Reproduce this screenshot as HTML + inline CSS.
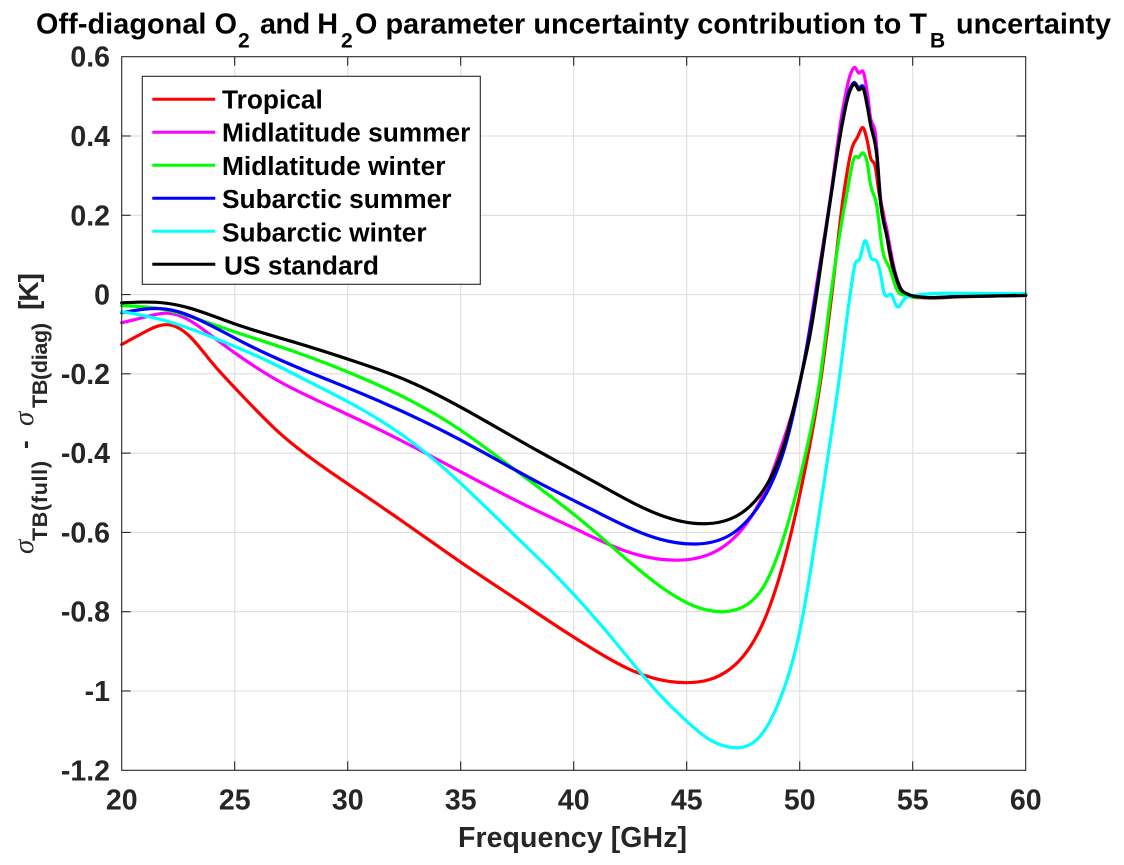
<!DOCTYPE html>
<html lang="en">
<head>
<meta charset="utf-8">
<title>Off-diagonal parameter uncertainty chart</title>
<style>
html,body{margin:0;padding:0;background:#fff;}
svg{display:block;}
text{font-family:"Liberation Sans",Arial,sans-serif;font-weight:bold;}
.serif{font-family:"Liberation Serif",serif;font-style:italic;font-weight:normal;}
</style>
</head>
<body>
<svg id="chart" xmlns="http://www.w3.org/2000/svg" width="1124" height="865" viewBox="0 0 1124 865">
  <rect x="0" y="0" width="1124" height="865" fill="#ffffff"/>
  <g id="grid"></g>
  <g id="series"></g>
  <rect x="121.7" y="56.7" width="904" height="713.6" fill="none" stroke="#262626" stroke-width="1.1"/>
  <g id="ticks"></g>
  <g id="tick-labels"></g>

  <g fill="#000">
    <text x="36" y="33.5" font-size="28.8" textLength="201" lengthAdjust="spacing">Off-diagonal O</text>
    <text x="238" y="47.5" font-size="21">2</text>
    <text x="260" y="33.5" font-size="28.8" textLength="78" lengthAdjust="spacing">and H</text>
    <text x="341" y="47.5" font-size="21">2</text>
    <text x="355" y="33.5" font-size="28.8" textLength="572" lengthAdjust="spacing">O parameter uncertainty contribution to T</text>
    <text x="930" y="47.5" font-size="21">B</text>
    <text x="956" y="33.5" font-size="28.8" textLength="155" lengthAdjust="spacing">uncertainty</text>
  </g>

  <text x="458" y="847" font-size="28.5" fill="#262626" textLength="229" lengthAdjust="spacing">Frequency [GHz]</text>

  <g fill="#262626" transform="rotate(-90)">
    <text class="serif" x="-554" y="33" font-size="29">σ</text>
    <text x="-541" y="47" font-size="21.5" textLength="80" lengthAdjust="spacing">TB(full)</text>
    <text x="-449" y="33" font-size="26">-</text>
    <text class="serif" x="-426" y="33" font-size="29">σ</text>
    <text x="-408" y="47" font-size="21.5" textLength="85" lengthAdjust="spacing">TB(diag)</text>
    <text x="-310" y="38" font-size="28" textLength="37" lengthAdjust="spacing">[K]</text>
  </g>

  <g>
    <rect x="142.3" y="76.3" width="338" height="208" fill="#ffffff" stroke="#262626" stroke-width="1.1"/>
    <g id="legend-entries"></g>
  </g>
</svg>

<script>
var xTicks = [20, 25, 30, 35, 40, 45, 50, 55, 60];
var yTicks = [0.6, 0.4, 0.2, 0, -0.2, -0.4, -0.6, -0.8, -1, -1.2];
var yTickLabels = ['0.6', '0.4', '0.2', '0', '-0.2', '-0.4', '-0.6', '-0.8', '-1', '-1.2'];
var seriesNames = ['Tropical', 'Midlatitude summer', 'Midlatitude winter', 'Subarctic summer', 'Subarctic winter', 'US standard'];

var freqTropical = [20, 21, 22, 23, 24, 25, 27, 29.2, 32.5, 35, 37.5, 39.4, 40.87, 42.35, 43.5, 45, 46.93, 48.41, 49.44, 50.32, 50.97, 51.42, 51.95, 52.32, 52.54, 52.83, 53, 53.13, 53.35, 53.5, 53.72, 54, 54.3, 54.82, 55.5, 57, 60];
var valsTropical = [-0.126, -0.095, -0.076, -0.105, -0.172, -0.235, -0.35, -0.446, -0.575, -0.675, -0.77, -0.842, -0.895, -0.942, -0.967, -0.979, -0.944, -0.824, -0.643, -0.417, -0.2, 0, 0.255, 0.371, 0.395, 0.419, 0.385, 0.346, 0.321, 0.26, 0.2, 0.096, 0.03, -0.002, -0.008, -0.006, -0.002];

var freqMidSummer = [20, 21, 22, 23, 24, 25, 27, 29.68, 32.63, 35, 38, 40.3, 42.35, 44.56, 46.2, 47.67, 48.55, 49.29, 50.18, 50.68, 51.36, 51.87, 52.24, 52.42, 52.61, 52.83, 53, 53.13, 53.35, 53.57, 53.86, 54.16, 54.45, 54.82, 55.34, 57, 60];
var valsMidSummer = [-0.071, -0.057, -0.047, -0.065, -0.105, -0.147, -0.22, -0.294, -0.376, -0.447, -0.535, -0.597, -0.648, -0.67, -0.65, -0.576, -0.484, -0.366, -0.174, 0, 0.246, 0.455, 0.555, 0.573, 0.559, 0.559, 0.505, 0.447, 0.405, 0.246, 0.163, 0.071, 0.017, 0, -0.006, -0.005, -0.002];

var freqMidWinter = [20, 22, 23, 25, 27.75, 30.54, 32.63, 35, 37.35, 40.3, 43.08, 45.3, 46.62, 47.67, 48.41, 49.44, 50.4, 50.93, 51.38, 51.8, 52.09, 52.42, 52.6, 52.83, 53, 53.1, 53.42, 53.64, 54, 54.3, 54.75, 55.5, 57, 60];
var valsMidWinter = [-0.028, -0.039, -0.055, -0.094, -0.146, -0.208, -0.263, -0.342, -0.44, -0.568, -0.703, -0.785, -0.8, -0.782, -0.736, -0.585, -0.366, -0.2, 0, 0.163, 0.255, 0.346, 0.346, 0.356, 0.33, 0.288, 0.221, 0.121, 0.063, 0.0125, -0.003, -0.007, -0.005, -0.002];

var freqSubSummer = [20, 22, 23, 25.25, 27.75, 30.54, 35, 38.5, 40.87, 43.82, 45.5, 46.93, 48.41, 49.44, 50.09, 50.7, 51.36, 51.87, 52.17, 52.42, 52.6, 52.83, 53, 53.13, 53.42, 53.57, 53.86, 54.16, 54.45, 54.82, 55.34, 57, 60];
var valsSubSummer = [-0.046, -0.037, -0.053, -0.117, -0.183, -0.248, -0.367, -0.476, -0.544, -0.617, -0.629, -0.606, -0.513, -0.366, -0.2, -0.005, 0.24, 0.43, 0.51, 0.535, 0.522, 0.522, 0.476, 0.432, 0.348, 0.24, 0.148, 0.064, 0.017, 0, -0.006, -0.005, -0.002];

var freqSubWinter = [20, 22, 24.2, 26.4, 28.5, 30, 32.63, 35, 37.35, 39.4, 41.76, 43.82, 45, 46.03, 47.2, 48.1, 48.83, 49.42, 50, 50.47, 51.14, 51.78, 52.23, 52.46, 52.64, 52.9, 53.16, 53.42, 53.54, 53.72, 54.09, 54.28, 54.68, 55.04, 56.08, 57.1, 60];
var valsSubWinter = [-0.043, -0.067, -0.112, -0.166, -0.226, -0.27, -0.363, -0.476, -0.605, -0.72, -0.871, -1.01, -1.076, -1.123, -1.143, -1.123, -1.06, -0.975, -0.85, -0.7, -0.45, -0.2, 0, 0.079, 0.088, 0.136, 0.092, 0.083, 0.063, 0.007, -0.002, -0.029, -0.008, -0.003, 0.003, 0.003, 0.002];

var freqUSStandard = [20, 22, 23, 25, 27.45, 30.54, 32.63, 35, 38.5, 41, 43.82, 45.88, 46.93, 48.41, 49.37, 50.09, 50.47, 50.84, 51.36, 51.87, 52.17, 52.46, 52.6, 52.83, 53, 53.13, 53.42, 53.57, 53.86, 54.16, 54.45, 54.82, 55.34, 57, 60];
var valsUSStandard = [-0.021, -0.022, -0.034, -0.074, -0.117, -0.173, -0.217, -0.284, -0.397, -0.475, -0.556, -0.578, -0.566, -0.492, -0.366, -0.2, -0.098, 0.036, 0.24, 0.426, 0.505, 0.53, 0.517, 0.517, 0.472, 0.43, 0.346, 0.238, 0.146, 0.063, 0.017, 0, -0.006, -0.005, -0.002];

var SVG_NS = 'http://www.w3.org/2000/svg';
var PLOT_LEFT = 121.7, PLOT_RIGHT = 1025.7, PLOT_TOP = 56.7, PLOT_BOTTOM = 770.3;
var X_MIN = 20, X_MAX = 60, Y_MIN = -1.2, Y_MAX = 0.6;
var SPLINE_END_FREQ = 51.5;

function xScale(f) {
  return PLOT_LEFT + (f - X_MIN) / (X_MAX - X_MIN) * (PLOT_RIGHT - PLOT_LEFT);
}
function yScale(v) {
  return PLOT_BOTTOM - (v - Y_MIN) / (Y_MAX - Y_MIN) * (PLOT_BOTTOM - PLOT_TOP);
}
function lineEl(parent, x1, y1, x2, y2, stroke, width) {
  var l = document.createElementNS(SVG_NS, 'line');
  l.setAttribute('x1', x1);
  l.setAttribute('y1', y1);
  l.setAttribute('x2', x2);
  l.setAttribute('y2', y2);
  l.setAttribute('stroke', stroke);
  l.setAttribute('stroke-width', width);
  parent.appendChild(l);
  return l;
}
/* Tangents: parabolic everywhere, then a C2 spline solve over the smooth part of the curve. */
function tangents(xs, ys, k) {
  var n = xs.length, d = [], m = [], i;
  for (i = 0; i < n - 1; i++) d[i] = (ys[i + 1] - ys[i]) / (xs[i + 1] - xs[i]);
  m[0] = d[0];
  m[n - 1] = d[n - 2];
  for (i = 1; i < n - 1; i++) {
    var h0 = xs[i] - xs[i - 1], h1 = xs[i + 1] - xs[i];
    m[i] = (h1 * d[i - 1] + h0 * d[i]) / (h0 + h1);
  }
  if (k < 2) return m;
  var a = [], b = [], c = [], r = [];
  b[0] = 2; c[0] = 1; r[0] = 3 * d[0]; a[0] = 0;
  for (i = 1; i < k; i++) {
    var hl = xs[i] - xs[i - 1], hr = xs[i + 1] - xs[i];
    a[i] = hr;
    b[i] = 2 * (hl + hr);
    c[i] = hl;
    r[i] = 3 * (hr * d[i - 1] + hl * d[i]);
  }
  r[k - 1] -= c[k - 1] * m[k];
  for (i = 1; i < k; i++) {
    var w = a[i] / b[i - 1];
    b[i] -= w * c[i - 1];
    r[i] -= w * r[i - 1];
  }
  m[k - 1] = r[k - 1] / b[k - 1];
  for (i = k - 2; i >= 0; i--) m[i] = (r[i] - c[i] * m[i + 1]) / b[i];
  return m;
}
function smoothPath(freqs, vals) {
  var xs = freqs.map(xScale), ys = vals.map(yScale), k = 0, i;
  for (i = 0; i < freqs.length; i++) if (freqs[i] <= SPLINE_END_FREQ) k = i;
  var m = tangents(xs, ys, k);
  var p = 'M' + xs[0].toFixed(2) + ' ' + ys[0].toFixed(2);
  for (i = 0; i < xs.length - 1; i++) {
    var h = (xs[i + 1] - xs[i]) / 3;
    p += 'C' + (xs[i] + h).toFixed(2) + ' ' + (ys[i] + m[i] * h).toFixed(2) + ' ' +
         (xs[i + 1] - h).toFixed(2) + ' ' + (ys[i + 1] - m[i + 1] * h).toFixed(2) + ' ' +
         xs[i + 1].toFixed(2) + ' ' + ys[i + 1].toFixed(2);
  }
  return p;
}

var gridG = document.getElementById('grid');
var ticksG = document.getElementById('ticks');
var labelsG = document.getElementById('tick-labels');
var TICK = 9;

xTicks.forEach(function (t) {
  var x = xScale(t);
  if (t !== X_MIN && t !== X_MAX) {
    var g = lineEl(gridG, x, PLOT_TOP, x, PLOT_BOTTOM, '#dedede', 1.1);
    
    
    var a = lineEl(ticksG, x, PLOT_BOTTOM, x, PLOT_BOTTOM - TICK, '#262626', 1.1);
    
    
    var b = lineEl(ticksG, x, PLOT_TOP, x, PLOT_TOP + TICK, '#262626', 1.1);
    
    
  }
  var lab = document.createElementNS(SVG_NS, 'text');
  
  
  lab.setAttribute('x', x);
  lab.setAttribute('y', 809.3);
  lab.setAttribute('text-anchor', 'middle');
  lab.setAttribute('font-size', '28.5');
  lab.setAttribute('fill', '#262626');
  lab.textContent = String(t);
  labelsG.appendChild(lab);
});

yTicks.forEach(function (t, i) {
  var y = yScale(t);
  if (t !== Y_MIN && t !== Y_MAX) {
    var g = lineEl(gridG, PLOT_LEFT, y, PLOT_RIGHT, y, '#dedede', 1.1);
    
    
    var a = lineEl(ticksG, PLOT_LEFT, y, PLOT_LEFT + TICK, y, '#262626', 1.1);
    
    
    var b = lineEl(ticksG, PLOT_RIGHT, y, PLOT_RIGHT - TICK, y, '#262626', 1.1);
    
    
  }
  var lab = document.createElementNS(SVG_NS, 'text');
  
  
  lab.setAttribute('x', 110);
  lab.setAttribute('y', y + 10);
  lab.setAttribute('text-anchor', 'end');
  lab.setAttribute('font-size', '28.5');
  lab.setAttribute('fill', '#262626');
  lab.textContent = yTickLabels[i];
  labelsG.appendChild(lab);
});

var seriesFreqs = [freqTropical, freqMidSummer, freqMidWinter, freqSubSummer, freqSubWinter, freqUSStandard];
var seriesVals = [valsTropical, valsMidSummer, valsMidWinter, valsSubSummer, valsSubWinter, valsUSStandard];
var seriesColors = ['#ff0000', '#ff00ff', '#00ff00', '#0000ff', '#00ffff', '#000000'];

var seriesG = document.getElementById('series');
var legendG = document.getElementById('legend-entries');

seriesNames.forEach(function (name, i) {
  var path = document.createElementNS(SVG_NS, 'path');
  
  
  path.setAttribute('d', smoothPath(seriesFreqs[i], seriesVals[i]));
  path.setAttribute('fill', 'none');
  path.setAttribute('stroke', seriesColors[i]);
  path.setAttribute('stroke-width', '3.2');
  path.setAttribute('stroke-linejoin', 'round');
  path.setAttribute('stroke-linecap', 'round');
  seriesG.appendChild(path);

  var ly = 99.3 + i * 33;
  var sw = lineEl(legendG, 152.3, ly, 215.3, ly, seriesColors[i], 3);
  
  

  var tx = document.createElementNS(SVG_NS, 'text');
  
  
  tx.setAttribute('x', i === 5 ? 224 : 222);
  tx.setAttribute('y', 108.5 + i * 33.2);
  tx.setAttribute('font-size', '26.3');
  tx.setAttribute('fill', '#000');
  tx.textContent = name;
  legendG.appendChild(tx);
});
</script>
</body>
</html>
